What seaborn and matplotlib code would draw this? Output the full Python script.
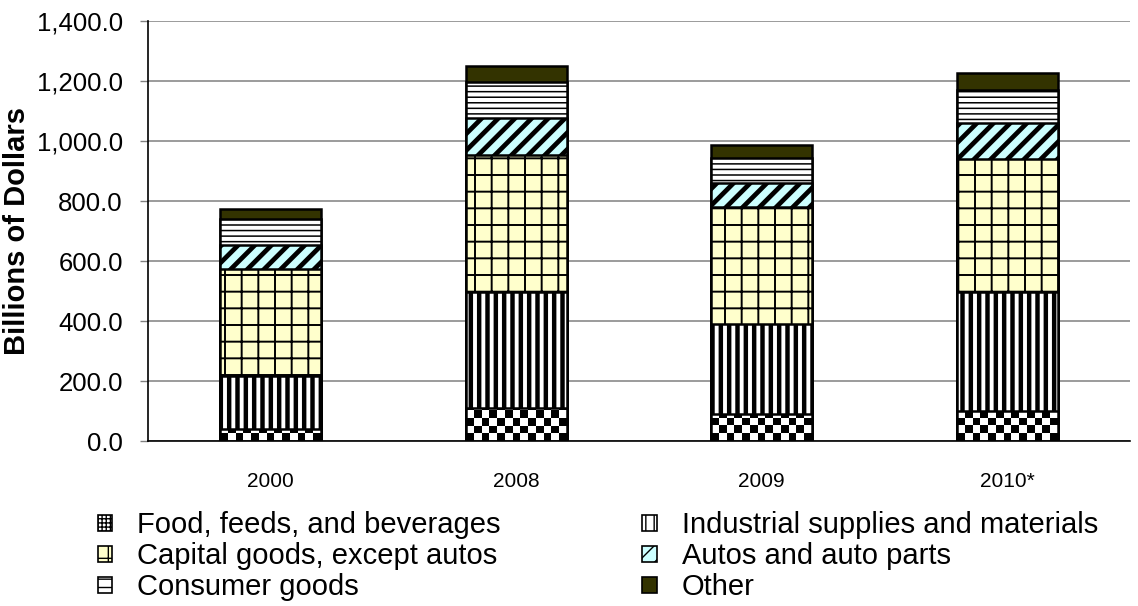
import numpy as np
import pandas as pd
import matplotlib
matplotlib.use("Agg")
import matplotlib.pyplot as plt
import seaborn as sns
from matplotlib.patches import Patch
from matplotlib.ticker import FuncFormatter

# values (billions of dollars)
years = ["2000", "2008", "2009", "2010*"]
categories = ["Food, feeds, and beverages", "Industrial supplies and materials",
              "Capital goods, except autos", "Autos and auto parts",
              "Consumer goods", "Other"]
food = [40, 109, 92, 101]
industrial = [178, 387, 297, 395]
capital = [357, 457, 390, 446]
autos = [80, 123, 82, 117]
consumer = [84, 122, 82, 113]
other = [34, 52, 44, 56]

colors = ["white", "white", "#FFFFCC", "#CCFFFF", "white", "#333300"]
hatches = [None, "||", "+", "//", "---", None]
hatch_lw = [1.0, 3.2, 1.4, 3.4, 1.1, 1.0]
legend_hatches = ["++++", "||", "+", "//", "--", None]

df = pd.DataFrame({"Year": years})
for name, vals in zip(categories, [food, industrial, capital, autos, consumer, other]):
    df[name] = vals
# cumulative heights for stacking (bars overlaid from the top down)
cum = df[categories].cumsum(axis=1)
cum["Year"] = years

sns.set_style("white")
plt.rcParams["font.family"] = ["Liberation Sans", "DejaVu Sans"]
plt.rcParams["text.color"] = "black"
plt.rcParams["axes.labelcolor"] = "black"
plt.rcParams["xtick.color"] = "black"
plt.rcParams["ytick.color"] = "black"

fig = plt.figure(figsize=(11.38, 6.06), dpi=100)
ax = fig.add_axes([0.130, 0.272, 0.863, 0.693])

for i in reversed(range(len(categories))):
    sns.barplot(data=cum, x="Year", y=categories[i], order=years, color=colors[i],
                saturation=1, width=0.41, edgecolor="black", linewidth=1.8,
                hatch=hatches[i], errorbar=None, ax=ax)
    for p in ax.containers[-1]:
        if hasattr(p, "set_hatch_linewidth"):
            p.set_hatch_linewidth(hatch_lw[i])

# checkerboard fill for the food segment
ii, jj = np.indices((55, 13))
checker = ((ii + jj) % 2).astype(float)
for p in ax.containers[-1]:
    x0, w = p.get_x(), p.get_width()
    z = p.get_zorder()
    im = ax.imshow(checker, extent=(x0, x0 + w, 0, 1400), cmap="gray", aspect="auto",
                   interpolation="nearest", zorder=z + 0.01)
    im.set_clip_path(p)
    p.set_facecolor("none")
    p.set_zorder(z + 0.02)

ax.set_xlim(-0.5, 3.5)
ax.set_ylim(0, 1400)
ax.set_yticks(np.arange(0, 1401, 200))
ax.yaxis.set_major_formatter(FuncFormatter(lambda v, _: f"{v:,.1f}"))
ax.yaxis.grid(True, color="#808080", linewidth=1.1)
ax.set_axisbelow(True)
for s in ["top", "right"]:
    ax.spines[s].set_visible(False)
ax.spines["left"].set_color("black")
ax.spines["bottom"].set_color("black")
ax.spines["left"].set_linewidth(1.2)
ax.spines["bottom"].set_linewidth(1.2)
ax.tick_params(axis="y", labelsize=18.5, length=6, width=1, color="#808080",
               labelcolor="black", left=True, pad=12)
ax.tick_params(axis="x", labelsize=15, length=0, pad=22, labelcolor="black")
ax.set_xlabel("")
ax.set_ylabel("Billions of Dollars", fontsize=21, fontweight="bold", labelpad=4)

handles = [Patch(facecolor=c, edgecolor="black", hatch=h, linewidth=1.2)
           for c, h in zip(colors, legend_hatches)]
# legend is filled row by row in the reference; matplotlib fills columns
order = [0, 2, 4, 1, 3, 5]
fig.legend([handles[k] for k in order], [categories[k] for k in order],
           loc="upper left", bbox_to_anchor=(0.086, 0.156),
           ncol=2, frameon=False, fontsize=21, borderpad=0, borderaxespad=0,
           handlelength=0.5, handleheight=0.5, handletextpad=0.85,
           labelspacing=0.1, columnspacing=4.85)

fig.savefig("out.png", dpi=100)
